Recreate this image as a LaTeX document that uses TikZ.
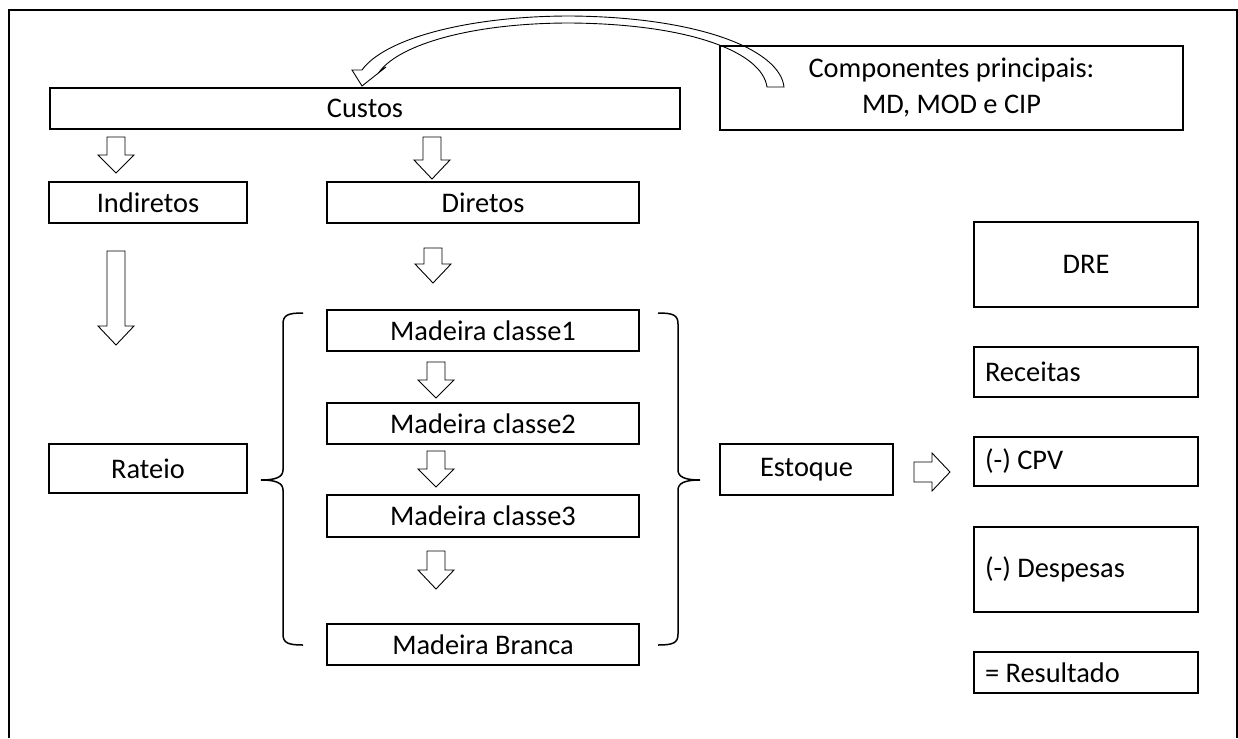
\documentclass[tikz,border=0pt]{standalone}
\usepackage{fontspec}
\setmainfont{Carlito}
\newcommand\bdown[4]{%
  \draw[barrow] ({#1-9},#2) -- ({#1+9},#2) -- ({#1+9},#3) -- ({#1+18},#3) -- (#1,#4) -- ({#1-18},#3) -- ({#1-9},#3) -- cycle;}
\begin{document}
\begin{tikzpicture}[x=1pt,y=-1pt,
  box/.style={draw, line width=1.5pt, inner sep=0pt, outer sep=0pt, anchor=north west,
    font=\fontsize{28.4}{36}\selectfont},
  lbox/.style={box, text width=202pt, align=flush left},
  barrow/.style={draw, line width=0.9pt, fill=white, line join=miter},
  brace/.style={draw, line width=1.5pt},
]
\useasboundingbox (0,0) rectangle (1238,738);
\draw[line width=2pt] (9,738) -- (9,10) -- (1237,10) -- (1237,738);

\node[box, minimum width=630, minimum height=41] (custos) at (50,88) {Custos};
\node[box, minimum width=463, minimum height=84, align=center] (comp) at (720,46) {Componentes principais:\\MD, MOD e CIP};
\node[box, minimum width=198, minimum height=41] (indir) at (49,182) {Indiretos};
\node[box, minimum width=312, minimum height=41] (dir) at (327,182) {Diretos};
\node[box, minimum width=312, minimum height=41] (m1) at (327,310) {Madeira classe1};
\node[box, minimum width=312, minimum height=41] (m2) at (327,403) {Madeira classe2};
\node[box, minimum width=312, minimum height=42] (m3) at (327,495) {Madeira classe3};
\node[box, minimum width=312, minimum height=41] (mb) at (327,624) {Madeira Branca};
\node[box, minimum width=198, minimum height=49] (rateio) at (49,444) {Rateio};
\node[box, minimum width=173, minimum height=51] (estoque) at (720,444) {Estoque};
\node[box, minimum width=224, minimum height=85] (dre) at (974,222) {DRE};
\node[lbox, minimum width=224, minimum height=50] (rec) at (974,347) {Receitas};
\node[lbox, minimum width=224, minimum height=49] (cpv) at (974,437) {(-) CPV};
\node[lbox, minimum width=224, minimum height=85] (desp) at (974,527) {(-) Despesas};
\node[lbox, minimum width=224, minimum height=41] (res) at (974,652) {= Resultado};

% curved block arrow from Componentes to Custos
\draw[line width=0.9pt, line join=miter] (784,87) .. controls (780,50) and (700,17) .. (570,16)
  .. controls (470,16) and (385,38) .. (362,70) -- (352,70) -- (362,86) -- (386,67) -- (380,71)
  .. controls (400,45) and (470,23) .. (570,23) .. controls (690,24) and (762,52) .. (767,87) -- cycle;

% block arrows
\bdown{116}{137}{155}{173}
\bdown{432}{137}{160}{179}
\bdown{433}{248}{264}{283}
\bdown{116}{251}{326}{345}
\bdown{436}{362}{380}{398}
\bdown{436}{451}{469}{487}
\bdown{436}{551}{570}{589}
\draw[barrow] (914,462) -- (932,462) -- (932,453) -- (950,472) -- (932,491) -- (932,482) -- (914,482) -- cycle;

% braces
\draw[brace] (303,313) .. controls (288,313) and (283,315) .. (283,324) -- (283,470)
  .. controls (283,477) and (276,480) .. (261,480) .. controls (276,480) and (283,483) .. (283,490)
  -- (283,634) .. controls (283,643) and (288,645) .. (303,645);
\draw[brace] (658,313) .. controls (673,313) and (678,315) .. (678,324) -- (678,470)
  .. controls (678,477) and (685,480) .. (700,480) .. controls (685,480) and (678,483) .. (678,490)
  -- (678,634) .. controls (678,643) and (673,645) .. (658,645);
\end{tikzpicture}
\end{document}
